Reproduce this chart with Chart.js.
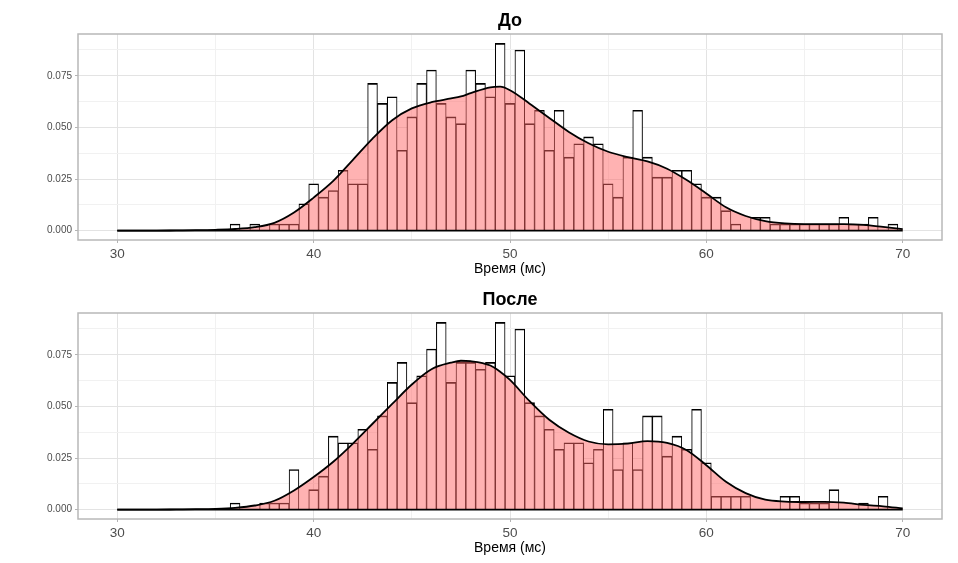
<!DOCTYPE html>
<html>
<head>
<meta charset="utf-8">
<script src="https://cdn.jsdelivr.net/npm/chart.js@4"></script>
<style>
  html, body { margin:0; padding:0; background:#fff; }
  canvas { display:block; }
</style>
</head>
<body>
<canvas id="before" width="958" height="279"></canvas>
<canvas id="after" width="958" height="284"></canvas>
<script>
const $ = (id) => document.getElementById(id);
const FONT = "'Liberation Sans', Arial, sans-serif";

// Histogram bin centres (ms), bin width 0.5
const bins = [30,30.5,31,31.5,32,32.5,33,33.5,34,34.5,35,35.5,36,36.5,37,37.5,38,38.5,39,39.5,
  40,40.5,41,41.5,42,42.5,43,43.5,44,44.5,45,45.5,46,46.5,47,47.5,48,48.5,49,49.5,
  50,50.5,51,51.5,52,52.5,53,53.5,54,54.5,55,55.5,56,56.5,57,57.5,58,58.5,59,59.5,
  60,60.5,61,61.5,62,62.5,63,63.5,64,64.5,65,65.5,66,66.5,67,67.5,68,68.5,69,69.5,70];

// "До" histogram densities
const histBefore = [0,0,0,0,0,0,0,0,0,0,0,0,
  .0032,0,.0032,0,.0032,.0032,.0032,.0130,
  .0227,.0162,.0194,.0292,.0227,.0227,.0713,.0616,
  .0648,.0389,.0551,.0713,.0778,.0616,.0551,.0518,
  .0778,.0713,.0648,.0907,.0616,.0875,.0518,.0583,
  .0389,.0583,.0356,.0421,.0454,.0421,.0227,.0162,
  .0356,.0583,.0356,.0259,.0259,.0292,.0292,.0227,
  .0162,.0162,.0097,.0032,0,.0065,.0065,.0032,
  .0032,.0032,.0032,.0032,.0032,.0032,.0065,.0032,
  .0032,.0065,0,.0032,0];

// "После" histogram densities
const histAfter = [0,0,0,0,0,0,0,0,0,0,0,0,
  .0032,0,0,.0032,.0032,.0032,.0194,0,
  .0097,.0162,.0356,.0324,.0324,.0389,.0292,.0454,
  .0616,.0713,.0518,.0648,.0778,.0907,.0616,.0713,
  .0713,.0680,.0713,.0907,.0648,.0875,.0518,.0454,
  .0389,.0292,.0324,.0324,.0227,.0292,.0486,.0194,
  .0324,.0194,.0454,.0454,.0259,.0356,.0292,.0486,
  .0227,.0065,.0065,.0065,.0065,0,0,0,
  .0065,.0065,.0032,.0032,.0032,.0097,0,0,
  .0032,0,.0065,0,0];

// Density curve sample points (ms)
const densX = [30,31,32,33,34,35,36,37,38,39,40,41,42,43,44,45,46,47,47.5,48,49,49.5,
  50,51,52,53,54,55,56,57,58,59,60,61,62,63,64,65,66,67,68,69,70];

const densBefore = [0,0,0,.0001,.0002,.0004,.0008,.0017,.0038,.0088,.0160,.0241,.0343,.0446,.0535,.0592,.0622,.0640,.0650,.0666,.0694,.0697,
  .0680,.0615,.0546,.0478,.0423,.0382,.0356,.0335,.0300,.0245,.0180,.0113,.0071,.0046,.0035,.0032,.0032,.0032,.0028,.0018,.0007];

const densAfter = [0,0,0,.0001,.0002,.0004,.0009,.0020,.0043,.0093,.0158,.0232,.0320,.0416,.0512,.0606,.0680,.0712,.0721,.0719,.0698,.0668,
  .0628,.0525,.0435,.0372,.0330,.0316,.0320,.0332,.0323,.0288,.0215,.0135,.0080,.0048,.0039,.0037,.0038,.0034,.0023,.0016,.0006];

// Axis ticks
const xMajor = [30,40,50,60,70];
const xMinor = [35,45,55,65];
const yMajor = [0,0.025,0.05,0.075];
const yMinor = [0.0125,0.0375,0.0625,0.0875];

function isIn(list, v){ return list.some(t => Math.abs(t - v) < 1e-9); }

const panelBorder = {
  id: 'panelBorder',
  afterDatasetsDraw(chart){
    const a = chart.chartArea, ctx = chart.ctx;
    ctx.save();
    ctx.strokeStyle = '#b8b8b8';
    ctx.lineWidth = 1.5;
    ctx.strokeRect(a.left, a.top, a.right - a.left, a.bottom - a.top);
    ctx.restore();
  }
};

function makePanel(id, title, hist, dens, padBottom){
  const top = Math.max(...hist);
  return new Chart($(id), {
    type: 'bar',
    data: {
      datasets: [
        { type:'line', data: bins.map(b => ({x:b, y:0})), borderColor:'#000', borderWidth:1.8,
          pointRadius:0, fill:false, order:0 },
        { type:'line', data: densX.map((x,i) => ({x, y:dens[i]})), borderColor:'#000', borderWidth:1.8,
          pointRadius:0, cubicInterpolationMode:'monotone', fill:'origin',
          backgroundColor:'rgba(255,102,102,0.5)', order:1 },
        { type:'bar', data: bins.map((b,i) => ({x:b, y:hist[i]})), backgroundColor:'#fff', borderColor:'#000',
          borderWidth:{top:1.6, left:1.05, right:1.05, bottom:0}, borderSkipped:false,
          barPercentage:1, categoryPercentage:1, grouped:false, order:2 }
      ]
    },
    options: {
      responsive:false, animation:false, devicePixelRatio:1,
      layout:{ padding:{ left:0, right:16, top:0, bottom:padBottom } },
      plugins:{
        legend:{ display:false },
        tooltip:{ enabled:false },
        title:{ display:true, text:title, fullSize:false, color:'#000',
          font:{ family:FONT, size:18, weight:'bold' }, padding:{ top:10, bottom:2.4 } }
      },
      scales:{
        x:{
          type:'linear', min:28, max:72, offset:false,
          afterBuildTicks: s => { s.ticks = [...xMajor, ...xMinor].sort((a,b)=>a-b).map(v => ({value:v})); },
          afterFit: s => { s.height = 39; },
          grid:{ offset:false, drawTicks:true, tickLength:3,
            color: c => isIn(xMajor, c.tick.value) ? '#e3e3e3' : '#f1f1f1',
            tickColor: c => isIn(xMajor, c.tick.value) ? '#b3b3b3' : 'rgba(0,0,0,0)' },
          border:{ display:false },
          ticks:{ autoSkip:false, maxRotation:0, padding:3, color:'#4d4d4d',
            font:{ family:FONT, size:13.5 },
            callback: v => isIn(xMajor, v) ? String(v) : '' },
          title:{ display:true, text:'Время (мс)', color:'#000',
            font:{ family:FONT, size:14 }, padding:{ top:0, bottom:1 } }
        },
        y:{
          min:-0.05*top, max:1.05*top,
          afterBuildTicks: s => { s.ticks = [...yMajor, ...yMinor].sort((a,b)=>a-b).map(v => ({value:v})); },
          afterFit: s => { s.width = 78; },
          grid:{ drawTicks:true, tickLength:3,
            color: c => isIn(yMajor, c.tick.value) ? '#e3e3e3' : '#f1f1f1',
            tickColor: c => isIn(yMajor, c.tick.value) ? '#b3b3b3' : 'rgba(0,0,0,0)' },
          border:{ display:false },
          ticks:{ autoSkip:false, padding:3, color:'#4d4d4d',
            font:{ family:FONT, size:10 },
            callback: v => isIn(yMajor, v) ? v.toFixed(3) : '' }
        }
      }
    },
    plugins:[panelBorder]
  });
}

makePanel('before', 'До', histBefore, densBefore, 0);
makePanel('after', 'После', histAfter, densAfter, 5);
</script>
</body>
</html>
